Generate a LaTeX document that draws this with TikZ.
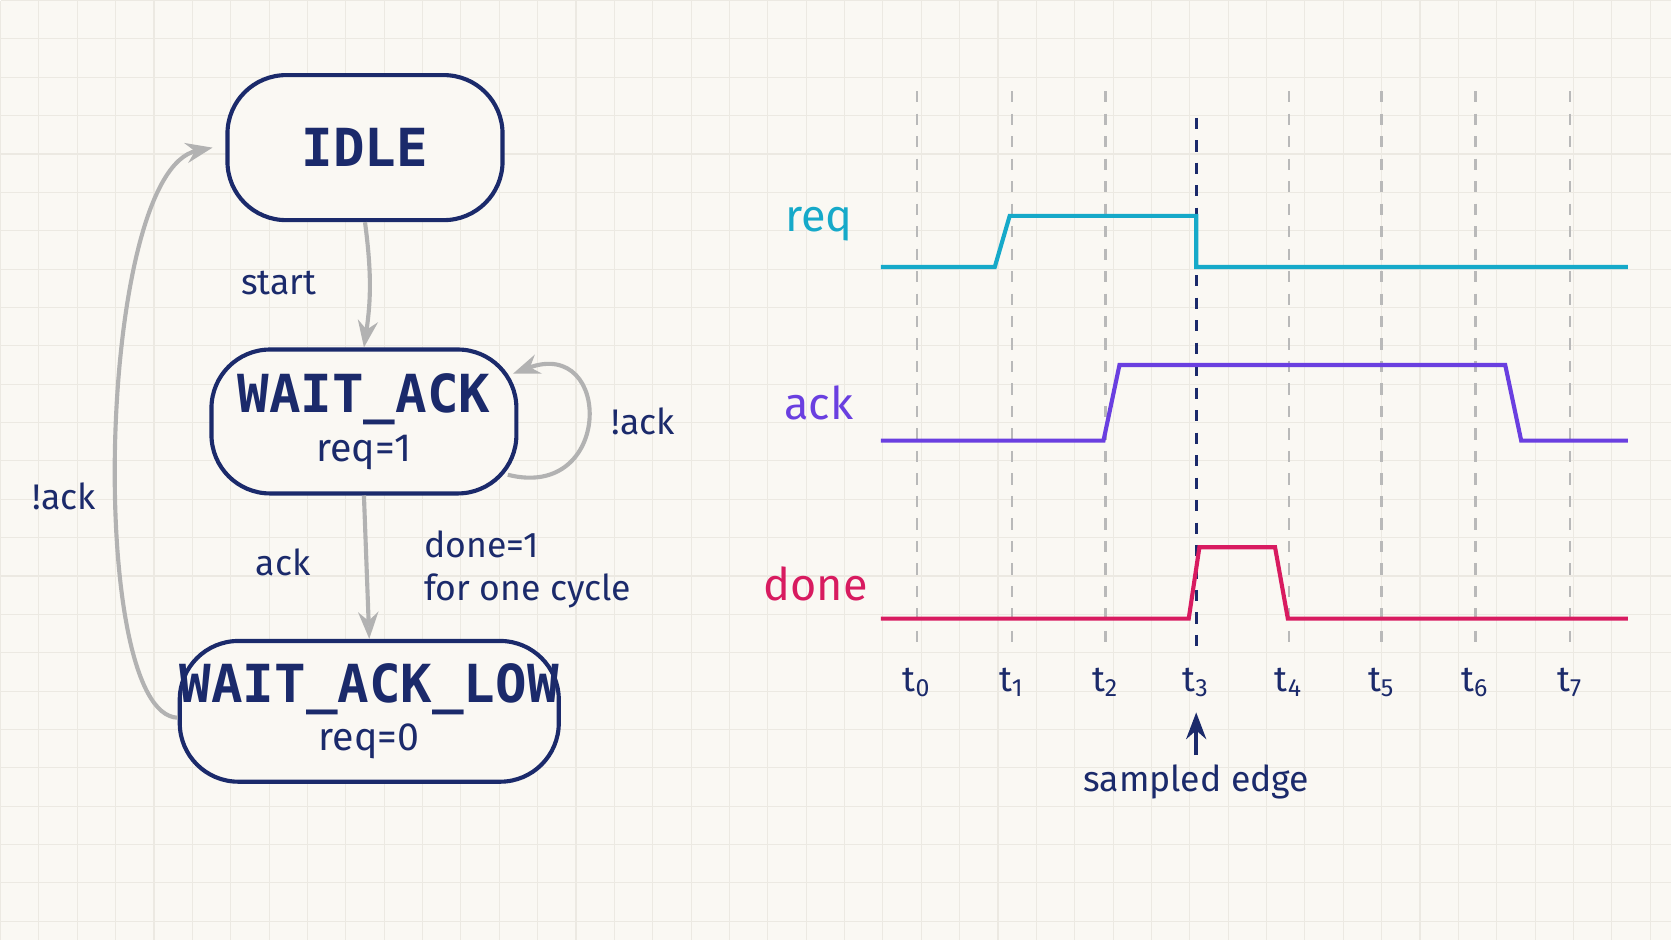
\documentclass[tikz,border=0pt]{standalone}
\usepackage{fontspec}
\setmainfont{Fira Sans}
\newfontfamily\statefont{DejaVu Sans Mono}
\usetikzlibrary{arrows.meta,positioning,calc}
\definecolor{navy}{HTML}{1B2A6B}
\definecolor{reqc}{HTML}{16A9C9}
\definecolor{ackc}{HTML}{6A3FE0}
\definecolor{donec}{HTML}{D81B60}
\definecolor{paper}{HTML}{FAF8F3}
\definecolor{gridc}{HTML}{ECE9E2}
\begin{document}
\begin{tikzpicture}[
    x=0.01cm, y=-0.01cm,
    state/.style={draw=navy, line width=1.1pt, rounded corners=0.55cm, fill=paper, text=navy, align=center, inner sep=0pt},
    trans/.style={-{Stealth[length=2.5mm, open]}, draw=gray!60, line width=1.1pt},
    lbl/.style={text=navy, font=\fontsize{9.5}{11.5}\selectfont, align=left},
    tick/.style={gray!55, dashed, line width=0.6pt},
    wave/.style={line width=1.1pt}
]
% Background
\fill[paper] (0,0) rectangle (1568,882);
\foreach \g in {0,36,...,1568} \draw[gridc, line width=0.3pt] (\g,0) -- (\g,882);
\foreach \g in {0,36,...,882} \draw[gridc, line width=0.3pt] (0,\g) -- (1568,\g);
\useasboundingbox (0,0) rectangle (1568,882);

% States
\node[state, minimum width=2.58cm, minimum height=1.36cm] (idle) at (342,138) {\statefont\bfseries\fontsize{14}{16}\selectfont IDLE};
\node[state, minimum width=2.86cm, minimum height=1.35cm] (wait) at (341,395) {{\statefont\bfseries\fontsize{14}{16}\selectfont WAIT\_ACK}\\[1pt]{\fontsize{10.5}{12}\selectfont req=1}};
\node[state, minimum width=3.54cm, minimum height=1.32cm] (low) at (346,667) {{\statefont\bfseries\fontsize{14}{16}\selectfont WAIT\_ACK\_LOW}\\[1pt]{\fontsize{10.5}{12}\selectfont req=0}};

% Transitions
\draw[trans] (idle.south) to[bend left=8] (wait.north);
\draw[trans] (wait.south) -- (low.north);
\draw[trans] ($(wait.east)+(-10,50)$) .. controls (575,470) and (575,315) .. ($(wait.east)+(-5,-45)$);
\draw[trans] ($(low.west)+(0,6)$) .. controls (80,670) and (90,160) .. ($(idle.west)+(-12,0)$);

\node[lbl] (lstart) at (261,265) {start};
\node[lbl] (lack) at (265,527) {ack};
\node[lbl, anchor=west] (ldone) at (385,534) {done=1\\for one cycle};
\node[lbl] (lself) at (603,395) {!ack};
\node[lbl] (lback) at (60,465) {!ack};

% Time grid
\foreach \t/\x in {0/860,1/949,2/1037,4/1209,5/1296,6/1384,7/1473} {
    \draw[tick] (\x,85) -- (\x,610);
    \node[lbl] (t\t) at (\x,640) {t\textsubscript{\t}};
}
\draw[navy, dashed, line width=0.9pt] (1122,110) -- (1122,610);
\node[lbl] (t3) at (1122,640) {t\textsubscript{3}};

% Waveforms
\node[text=reqc, font=\fontsize{12}{14}\selectfont] (sreq) at (768,210) {req};
\node[text=ackc, font=\fontsize{12}{14}\selectfont] (sack) at (768,378) {ack};
\node[text=donec, font=\fontsize{12}{14}\selectfont] (sdone) at (765,547) {done};
\draw[wave, reqc] (826,250) -- (933,250) -- (947,202) -- (1122,202) -- (1122,250) -- (1527,250);
\draw[wave, ackc] (826,413) -- (1035,413) -- (1050,342) -- (1412,342) -- (1427,413) -- (1527,413);
\draw[wave, donec] (826,580) -- (1115,580) -- (1125,513) -- (1196,513) -- (1208,580) -- (1527,580);

% Sampled edge
\node[lbl] (sampled) at (1122,733) {sampled edge};
\draw[-{Stealth[length=2.5mm]}, navy, line width=1.1pt] (1122,708) -- (1122,668);
\end{tikzpicture}
\end{document}
